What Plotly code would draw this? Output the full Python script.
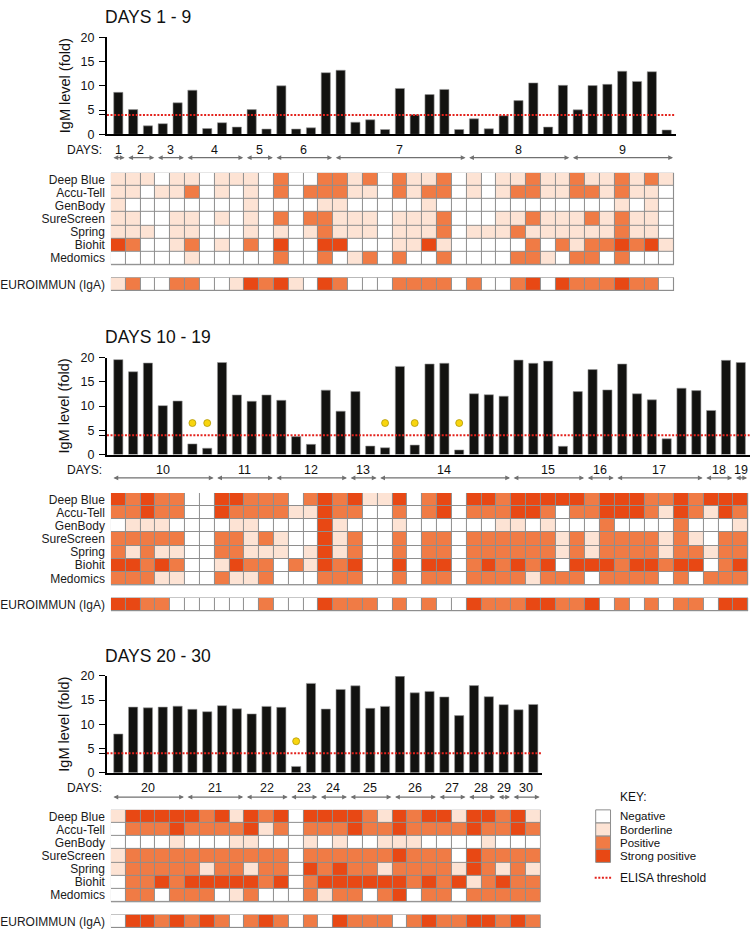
import plotly.graph_objects as go

W, H = 753, 940

# ---------------- shared data ----------------
ROW_NAMES = ["Deep Blue", "Accu-Tell", "GenBody", "SureScreen", "Spring", "Biohit", "Medomics"]
IGA_NAME = "EUROIMMUN (IgA)"
CODES = {"N": 0, "B": 1, "P": 2, "S": 3}
KEY_LABELS = ["Negative", "Borderline", "Positive", "Strong positive"]
KEY_COLORS = ["#ffffff", "#fde3d4", "#f07b45", "#e84814"]
ELISA_THRESHOLD = 4
DOT_LEVEL = 6.5
Y_TICKS = [0, 4, 5, 10, 15, 20]
Y_TICKTEXT = ["0", "", "5", "10", "15", "20"]

# ---------------- panel 1: days 1-9 ----------------
p1_title = "DAYS 1 - 9"
p1_days = [1, 2, 3, 4, 5, 6, 7, 8, 9]
p1_day_sizes = [1, 2, 2, 4, 2, 4, 9, 7, 7]
p1_igm = [8.65, 5.1, 1.75, 2.2, 6.5, 9.1, 1.2, 2.4, 1.5, 5.1, 1.1, 10.0, 1.1, 1.35, 12.7,
          13.2, 2.5, 3.0, 1.0, 9.45, 4.05, 8.2, 9.25, 1.0, 3.2, 1.15, 3.85, 6.95, 10.6, 1.5,
          10.1, 5.05, 10.05, 10.3, 13.0, 10.9, 12.9, 0.9]
p1_dots = []
p1_deep_blue = "B B B N B B N B B B N P N N P P B P N P B B P N B N B B P B B P B B P B P B"
p1_accu_tell = "B B N B B P N B N B N P N P P P B B N P B P P N B N B P P B B P P B P B B N"
p1_genbody = "B N N N N N N N N B N N N N B B N N N N N B N N N N N N N N N N N N B N B N"
p1_surescreen = "B B N N B B N B N B N P N P P B B B N B B B P N N N B B P B B B P B P B B N"
p1_spring = "B B B N B B N N N B N B N B P B B B N B B B P N B B B P B B B B B B P B B N"
p1_biohit = "S P N N B P N B N P N S N N S S N N N B B S B N N N N N P N P B P P S P S B"
p1_medomics = "N N N N N B N N N N N P N N P N B P N P N N P N N N N P P B N P P N P N N N"
p1_iga = "B P N N P P N N B S P S B N S P N N N P P P P N P N N P S N S P P P S P P N"

# ---------------- panel 2: days 10-19 ----------------
p2_title = "DAYS 10 - 19"
p2_days = [10, 11, 12, 13, 14, 15, 16, 17, 18, 19]
p2_day_sizes = [7, 4, 5, 2, 9, 5, 2, 6, 2, 1]
p2_igm = [19.6, 17.1, 18.9, 10.1, 11.05, 2.2, 1.3, 19.0, 12.3, 11.0, 12.3, 11.2, 3.7, 2.1,
          13.3, 8.95, 13.0, 1.75, 1.4, 18.2, 1.95, 18.7, 18.85, 0.95, 12.55, 12.35, 12.05,
          19.5, 18.85, 19.3, 1.7, 13.0, 17.55, 13.35, 18.7, 12.55, 11.3, 3.25, 13.7, 13.2,
          9.1, 19.45, 19.0]
p2_dots = [5, 6, 18, 20, 23]
p2_deep_blue = ("S P S P P N N S S P P P N P S P S B "
                "B S N P S N S S P S S S S S P S S S P P S P S S S")
p2_accu_tell = ("P P S P P N N S P P P P B B S P P N "
                "N P N P S N P P P S S P N P P S S S P B S P B S P")
p2_genbody = ("N B B B N N N N B B N N N N S B N N "
              "N B N N N N N N B B N B N N N P N N N N P N N N B")
p2_surescreen = ("P P P P P N N P P B P B N N S B P N "
                 "N P N P P N P P P P P P B P B P P P P B P B N P P")
p2_spring = ("P B P B B N N P P B B B N B S B P N "
             "N P N P P N P P P P P P B P B P P P P B P P B P P")
p2_biohit = ("S S P S P N N B S P P N P B S P S N "
             "N S N S S N P S P S P S N S S S P S S P S S N P S")
p2_medomics = ("P P P B B N N P B B P N N N P P P N "
               "N P N P P N P P P P B P P P N P P P P N P N P P P")
p2_iga = ("S S P P N N N N N N P N N N S P P P "
          "N P N P N N S P P P S S P P S N P N P N P P N S S")

# ---------------- panel 3: days 20-30 ----------------
p3_title = "DAYS 20 - 30"
p3_days = [20, 21, 22, 23, 24, 25, 26, 27, 28, 29, 30]
p3_day_sizes = [5, 4, 3, 2, 2, 3, 3, 2, 2, 1, 2]
p3_igm = [8.0, 13.55, 13.4, 13.55, 13.75, 13.1, 12.6, 13.85, 13.2, 12.15, 13.7, 13.5, 1.3,
          18.45, 13.15, 17.2, 17.95, 13.3, 13.7, 19.9, 16.5, 16.8, 15.65, 11.8, 18.0, 15.7,
          14.05, 13.0, 14.1]
p3_dots = [12]
p3_deep_blue = "B S S S S S P S B S P S N S S S S P B S P S S B S S P S B"
p3_accu_tell = "N P P P S P P P P S B P N P P P S P P S P P P P S P P S P"
p3_genbody = "N N N N B N N N B B N N N B N B N N B B B N N N N B N N N"
p3_surescreen = "B P P P P P P P P P P P N P P P P P P S P P P N S P P P P"
p3_spring = "B P P P P P B P P B P P N S P S P P B P P P P B S P B P B"
p3_biohit = "N P P S P S S S S S P S N P S S S S S S P S P S B P S P P"
p3_medomics = "N P P N P P P N B P N N N P B P P N P S N P P N P P P P P"
p3_iga = "N S S P S P S P N P S P N P N S P P P N P S P P S S P S P"

panels = [
    dict(title=p1_title, days=p1_days, sizes=p1_day_sizes, igm=p1_igm, dots=p1_dots,
         rows=[p1_deep_blue, p1_accu_tell, p1_genbody, p1_surescreen, p1_spring, p1_biohit, p1_medomics],
         iga=p1_iga,
         geo=dict(title_y=10, bar_top=30.7, bar_bot=129.3, days_y=145, arrow_y=153, heat_top=168.3)),
    dict(title=p2_title, days=p2_days, sizes=p2_day_sizes, igm=p2_igm, dots=p2_dots,
         rows=[p2_deep_blue, p2_accu_tell, p2_genbody, p2_surescreen, p2_spring, p2_biohit, p2_medomics],
         iga=p2_iga,
         geo=dict(title_y=334.5, bar_top=356, bar_bot=454.3, days_y=470, arrow_y=478, heat_top=493.3)),
    dict(title=p3_title, days=p3_days, sizes=p3_day_sizes, igm=p3_igm, dots=p3_dots,
         rows=[p3_deep_blue, p3_accu_tell, p3_genbody, p3_surescreen, p3_spring, p3_biohit, p3_medomics],
         iga=p3_iga,
         geo=dict(title_y=658.5, bar_top=679, bar_bot=777.3, days_y=793, arrow_y=802, heat_top=815)),
]

# ---------------- helpers ----------------
FONT = "Liberation Sans, Arial, sans-serif"
X0 = 104.0      # left edge of first cell (px)
CW = 14.98      # cell width (px)
AXX = 100.0     # y-axis line position (px)
RH = 13.33      # heatmap row height (px)


def codes(s):
    return [CODES[c] for c in s.split()]


def px_y(py):
    return 1 - py / H


def xid(i):
    return "x" if i == 1 else f"x{i}"


def yid(i):
    return "y" if i == 1 else f"y{i}"


def xkey(i):
    return "xaxis" if i == 1 else f"xaxis{i}"


def ykey(i):
    return "yaxis" if i == 1 else f"yaxis{i}"


colorscale = [[0.0, KEY_COLORS[0]], [0.25, KEY_COLORS[0]],
              [0.25, KEY_COLORS[1]], [0.5, KEY_COLORS[1]],
              [0.5, KEY_COLORS[2]], [0.75, KEY_COLORS[2]],
              [0.75, KEY_COLORS[3]], [1.0, KEY_COLORS[3]]]

fig = go.Figure()
layout = {}
annotations = []
shapes = []

for k, p in enumerate(panels):
    g = p["geo"]
    n = len(p["igm"])
    bi, hi = 2 * k + 1, 2 * k + 2
    bx, by, hx, hy = xid(bi), yid(bi), xid(hi), yid(hi)
    xs = [i + 0.5 for i in range(n)]

    # bars
    fig.add_trace(go.Bar(x=xs, y=p["igm"], width=0.62, xaxis=bx, yaxis=by,
                         marker=dict(color="#121210", line=dict(color="#9a9a9a", width=0.6)),
                         hoverinfo="y", showlegend=False))
    # yellow dots
    if p["dots"]:
        fig.add_trace(go.Scatter(x=[j + 0.5 for j in p["dots"]],
                                 y=[DOT_LEVEL] * len(p["dots"]), mode="markers",
                                 xaxis=bx, yaxis=by, showlegend=False, hoverinfo="skip",
                                 marker=dict(size=7, color="#f8d50f",
                                             line=dict(color="#a88f00", width=0.7))))
    # heatmap
    z = [codes(r) for r in p["rows"]] + [[None] * n] + [codes(p["iga"])]
    fig.add_trace(go.Heatmap(z=z, x=xs, y=list(range(9)), xaxis=hx, yaxis=hy,
                             colorscale=colorscale, zmin=-0.5, zmax=3.5, showscale=False,
                             xgap=1, ygap=1, hoverinfo="skip"))

    # axes
    layout[xkey(bi)] = dict(domain=[AXX / W, (X0 + n * CW + 1.5) / W],
                            range=[-(X0 - AXX) / CW, n + 1.5 / CW], anchor=by,
                            showline=True, linecolor="#000", linewidth=2, ticks="",
                            showticklabels=False, showgrid=False, zeroline=False, fixedrange=True)
    layout[ykey(bi)] = dict(domain=[px_y(g["bar_bot"]), px_y(g["bar_top"])], range=[0, 20],
                            anchor=bx, showline=True, linecolor="#000", linewidth=2,
                            ticks="outside", ticklen=6, tickwidth=1.3, tickcolor="#000",
                            tickvals=Y_TICKS, ticktext=Y_TICKTEXT, ticklabelstandoff=2,
                            tickfont=dict(family=FONT, size=12.5, color="#111"),
                            showgrid=False, zeroline=False, fixedrange=True)
    layout[xkey(hi)] = dict(domain=[X0 / W, (X0 + n * CW) / W], range=[0, n], anchor=hy,
                            showline=False, ticks="", showticklabels=False, showgrid=False,
                            zeroline=False, fixedrange=True)
    layout[ykey(hi)] = dict(domain=[px_y(g["heat_top"] + 9 * RH), px_y(g["heat_top"])],
                            range=[8.5, -0.5], anchor=hx, showline=False, ticks="",
                            tickvals=list(range(7)) + [8], ticktext=ROW_NAMES + [IGA_NAME],
                            ticklabelstandoff=5,
                            tickfont=dict(family=FONT, size=12, color="#1a1a1a"),
                            showgrid=False, zeroline=False, fixedrange=True)

    # grey cell borders (behind heatmap)
    for (y0, y1) in [(-0.5, 6.5), (7.5, 8.5)]:
        shapes.append(dict(type="rect", xref=hx, yref=hy, x0=0, x1=n, y0=y0, y1=y1,
                           fillcolor="#8e8e8e", line=dict(color="#8e8e8e", width=1),
                           layer="below"))
    # ELISA threshold
    shapes.append(dict(type="line", xref=f"{bx} domain", yref=by, x0=0, x1=1,
                       y0=ELISA_THRESHOLD, y1=ELISA_THRESHOLD,
                       line=dict(color="#e3221c", width=2, dash="2px,1.6px")))

    # title
    annotations.append(dict(text=p["title"], x=97 / W, y=px_y(g["title_y"]), xref="paper",
                            yref="paper", xanchor="left", yanchor="middle", showarrow=False,
                            borderpad=0,
                            font=dict(family=FONT, size=17.5, color="#111")))
    # y title
    annotations.append(dict(text="IgM level (fold)", textangle=-90, x=57 / W,
                            y=px_y((g["bar_top"] + g["bar_bot"]) / 2), xref="paper",
                            yref="paper", xanchor="center", yanchor="middle", showarrow=False,
                            font=dict(family=FONT, size=14.5, color="#111")))
    # DAYS label
    annotations.append(dict(text="DAYS:", x=97 / W, y=px_y(g["days_y"]), xref="paper",
                            yref="paper", xanchor="right", yanchor="middle", showarrow=False,
                            font=dict(family=FONT, size=12, color="#111")))
    start = 0
    for d, c in zip(p["days"], p["sizes"]):
        annotations.append(dict(text=str(d), x=start + c / 2, y=px_y(g["days_y"]), xref=hx,
                                yref="paper", xanchor="center", yanchor="middle",
                                showarrow=False, borderpad=0,
                                font=dict(family=FONT, size=12.5, color="#111")))
        annotations.append(dict(text="", x=start + c - 0.07, y=px_y(g["arrow_y"]), xref=hx,
                                yref="paper", ax=start + 0.07, ay=0, axref=hx, ayref="pixel",
                                showarrow=True, arrowhead=2, arrowside="end+start",
                                arrowsize=0.8, arrowwidth=1.2, arrowcolor="#707070",
                                standoff=0, startstandoff=0))
        start += c

# ---------------- key ----------------
KX0, KX1 = 594, 609
KY0 = 815
annotations.append(dict(text="KEY:", x=618 / W, y=px_y(802), xref="paper", yref="paper",
                        xanchor="left", yanchor="middle", showarrow=False, borderpad=0,
                        font=dict(family=FONT, size=12, color="#111")))
for i, (lab, col) in enumerate(zip(KEY_LABELS, KEY_COLORS)):
    shapes.append(dict(type="rect", xref="paper", yref="paper", x0=KX0 / W, x1=KX1 / W,
                       y0=px_y(KY0 + (i + 1) * RH), y1=px_y(KY0 + i * RH), fillcolor=col,
                       line=dict(color="#8e8e8e", width=1)))
    annotations.append(dict(text=lab, x=618 / W, y=px_y(KY0 + (i + 0.5) * RH), xref="paper",
                            yref="paper", xanchor="left", yanchor="middle", showarrow=False,
                            borderpad=0,
                            font=dict(family=FONT, size=11.5, color="#111")))
shapes.append(dict(type="line", xref="paper", yref="paper", x0=593 / W, x1=610 / W,
                   y0=px_y(884), y1=px_y(884),
                   line=dict(color="#e3221c", width=2, dash="2px,1.6px")))
annotations.append(dict(text="ELISA threshold", x=618 / W, y=px_y(884), xref="paper",
                        yref="paper", xanchor="left", yanchor="middle", showarrow=False,
                        borderpad=0,
                        font=dict(family=FONT, size=12, color="#111")))

fig.update_layout(width=W, height=H, margin=dict(l=0, r=0, t=0, b=0),
                  paper_bgcolor="white", plot_bgcolor="white", showlegend=False,
                  barmode="overlay", annotations=annotations, shapes=shapes, **layout)

fig.write_html("out.html", config={"displayModeBar": False},
               post_script="document.body.style.margin='0px';"
                           "document.body.style.overflow='hidden';")
